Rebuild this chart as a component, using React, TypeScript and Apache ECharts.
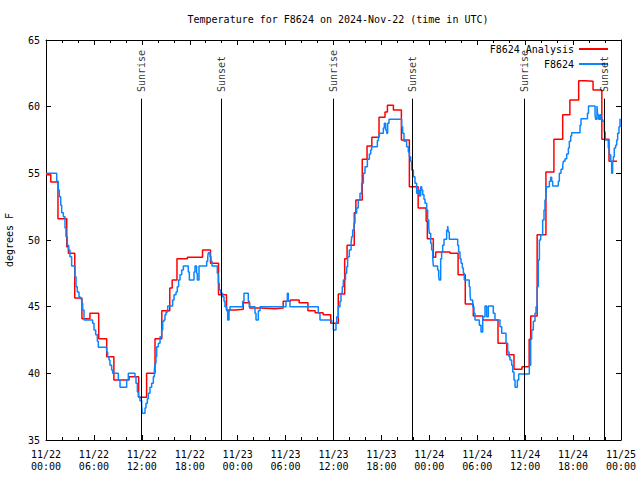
import React, { useEffect, useRef } from "react";
import * as echarts from "echarts";

const FONT = "DejaVu Sans Mono";

// x in hours since 2024-11-22 00:00 UTC
const xTickLabels = [
  "11/22\n00:00", "11/22\n06:00", "11/22\n12:00", "11/22\n18:00",
  "11/23\n00:00", "11/23\n06:00", "11/23\n12:00", "11/23\n18:00",
  "11/24\n00:00", "11/24\n06:00", "11/24\n12:00", "11/24\n18:00",
  "11/25\n00:00",
];

const eventNames = ["Sunrise", "Sunset", "Sunrise", "Sunset", "Sunrise", "Sunset"];
const eventHours = [11.94, 21.95, 35.98, 45.87, 59.9, 69.91];

const analysisHours = [
  0, 0.6, 1.5, 2.6, 2.8, 3.6, 4.5, 5.5, 6.6, 7.6, 8.5, 10.4, 11.6, 12.6, 13.65, 14.5,
  15.5, 15.8, 16.4, 17.7, 19.6, 20.6, 21.6, 22.6, 23.75, 24.7, 25.5, 26.8, 28.7, 29.7,
  30.6, 31.7, 32.8, 33.7, 34.7, 35.65, 36.6, 37.4, 37.7, 38.6, 38.8, 39.6, 40.2, 40.8,
  41.7, 42.45, 42.75, 43.5, 44.5, 45.5, 46.6, 47.6, 47.75, 48.5, 48.8, 50.6, 51.6, 52.5,
  53.5, 54.7, 56.6, 57.7, 58.6, 59.6, 60.5, 60.7, 61.5, 62.6, 63.6, 64.7, 65.6, 66.7,
  67.6, 68.5, 69.6, 70.5, 71.5,
];
const analysisTemps = [
  54.9, 54.35, 51.6, 49.5, 49.0, 45.65, 44.1, 44.5, 42.6, 41.25, 39.5, 39.75, 38.2, 40.0, 42.6, 44.7,
  46.4, 47.0, 48.6, 48.7, 49.25, 48.25, 45.9, 44.75, 44.8, 45.3, 44.9, 44.85, 44.9, 45.4,
  45.5, 45.3, 44.7, 44.55, 44.4, 43.75, 45.95, 48.6, 49.6, 52.05, 53.0, 56.05, 57.05, 57.7,
  59.2, 59.6, 60.1, 59.75, 57.5, 54.0, 52.4, 51.4, 50.1, 48.7, 49.1, 49.0, 47.4, 45.2,
  44.3, 44.0, 42.25, 41.4, 40.3, 40.5, 42.55, 44.3, 50.4, 55.1, 57.55, 59.4, 60.5, 61.95,
  61.9, 61.25, 57.55, 55.9, 55.9,
];

const obsHours = [
  0, 1.34, 1.54, 1.67, 1.84, 1.96, 2.17, 2.38, 2.5, 2.67, 2.84, 3.0, 3.21, 3.63, 3.76, 3.92,
  4.13, 4.26, 4.47, 4.59, 4.76, 5.84, 6.01, 6.22, 6.43, 6.55, 7.6, 7.72, 7.89, 8.01, 8.22,
  8.35, 9.06, 9.27, 10.1, 10.31, 11.14, 11.27, 11.44, 11.56, 11.77, 11.98, 12.06, 12.4,
  12.52, 12.69, 12.81, 13.02, 13.23, 13.44, 13.57, 13.65, 13.77, 13.86, 14.07, 14.28,
  14.48, 14.61, 14.78, 14.9, 15.03, 15.24, 15.86, 16.03, 16.28, 16.44, 16.6, 16.78, 16.99,
  17.2, 17.82, 17.95, 18.53, 18.66, 18.86, 18.95, 19.16, 20.12, 20.25, 20.33, 20.54, 20.66,
  20.79, 21.45, 21.58, 21.7, 21.87, 22.12, 22.29, 22.41, 22.62, 22.75, 22.92, 23.04, 24.63,
  24.79, 25.33, 25.46, 26.17, 26.3, 26.59, 26.8, 30.05, 30.22, 30.34, 30.55, 34.1, 34.31,
  35.77, 35.98, 36.31, 36.4, 36.6, 36.81, 36.94, 37.1, 37.23, 37.5, 37.65, 37.77, 37.98,
  38.2, 38.28, 38.4, 38.57, 38.69, 38.9, 39.1, 39.32, 39.53, 39.74, 39.94, 40.24, 40.49,
  40.66, 40.78, 41.49, 41.62, 41.74, 42.24, 42.37, 42.53, 42.66, 42.78, 42.95, 44.54,
  44.66, 44.83, 45.16, 45.37, 45.5, 45.66, 45.79, 46.0, 46.2, 46.41, 46.62, 46.75, 46.92,
  47.04, 47.17, 47.33, 47.46, 47.67, 47.79, 47.92, 48.0, 48.17, 48.29, 48.42, 48.5, 49.04,
  49.17, 49.25, 49.42, 49.54, 49.67, 49.84, 50.17, 50.3, 50.38, 50.5, 51.55, 51.67, 51.84,
  51.97, 52.13, 52.26, 52.38, 53.0, 53.1, 53.16, 53.43, 53.59, 53.72, 54.26, 54.47, 54.68,
  54.97, 55.18, 55.39, 56.01, 56.22, 56.85, 57.06, 57.6, 57.81, 57.98, 58.1, 58.31, 58.44,
  58.6, 58.73, 59.02, 59.19, 60.52, 60.69, 60.82, 61.02, 61.23, 61.36, 61.5, 61.65, 61.78,
  61.94, 62.19, 62.36, 62.48, 62.61, 62.69, 63.03, 63.19, 63.32, 63.44, 64.15, 64.28, 64.49,
  64.7, 64.78, 64.99, 65.2, 65.41, 65.53, 65.7, 65.82, 66.87, 66.99, 67.8, 67.93, 68.75,
  68.83, 68.99, 69.07, 69.2, 69.37, 69.49, 69.7, 69.91, 70.03, 70.41, 70.54, 70.71, 70.83,
  70.95, 71.04, 71.16, 71.33, 71.46, 71.58, 71.75, 71.88, 71.95,
];
const obsTemps = [
  55.0, 54.4, 53.75, 53.25, 52.6, 52.05, 51.75, 50.9, 50.25, 49.6, 49.25, 48.75, 48.05, 47.25, 46.5, 46.1,
  45.75, 45.6, 45.25, 44.75, 44.0, 43.75, 43.25, 42.9, 42.4, 41.95, 41.6, 41.25, 41.0, 40.6, 40.25,
  40.0, 39.5, 38.95, 39.5, 40.0, 39.75, 39.25, 38.6, 38.25, 37.95, 37.55, 37.0, 37.4,
  37.75, 38.1, 38.5, 38.95, 39.25, 39.75, 40.25, 40.75, 41.25, 42.0, 42.25, 42.75,
  43.25, 43.9, 44.0, 44.4, 44.6, 45.05, 45.5, 45.9, 46.1, 46.5, 47.0, 47.4, 47.75,
  48.05, 47.6, 47.0, 47.6, 48.05, 47.5, 47.0, 48.05, 48.4, 48.75, 49.05, 48.75, 48.4,
  48.05, 47.5, 46.75, 46.25, 46.0, 45.75, 45.4, 45.0, 44.7, 44.0, 44.7, 45.0, 45.4,
  46.0, 45.4, 45.0, 44.5, 44.0, 44.7, 45.0, 45.4, 46.0, 45.4, 45.0, 44.5, 44.0,
  43.75, 43.25, 43.75, 44.25, 45.0, 45.4, 46.0, 46.5, 47.0, 47.5, 48.0, 48.75, 49.25,
  49.75, 50.25, 50.75, 51.25, 52.0, 52.4, 53.0, 53.5, 54.25, 55.0, 55.5, 56.05, 56.45,
  56.75, 57.0, 57.45, 57.75, 58.0, 58.4, 58.75, 58.25, 58.0, 58.75, 59.05, 58.5,
  58.0, 57.4, 57.0, 56.6, 56.25, 55.9, 55.25, 54.75, 54.25, 53.5, 53.75, 53.3, 54.0,
  53.75, 53.4, 53.05, 52.75, 52.25, 51.5, 51.0, 50.5, 49.75, 49.25, 48.7, 48.05, 47.75,
  47.25, 47.0, 48.6, 49.1, 49.6, 50.05, 50.75, 51.05, 50.6, 50.05, 49.6, 49.1, 48.6,
  48.25, 47.9, 47.5, 47.0, 46.5, 46.0, 45.5, 45.0, 44.5, 44.0, 43.6, 43.1, 44.25,
  45.05, 44.25, 45.05, 44.5, 44.0, 43.5, 43.0, 42.25, 41.6, 41.25, 41.0, 40.6, 40.1,
  39.5, 38.95, 39.5, 39.95, 40.6, 42.55, 43.25, 43.9, 44.5, 45.0, 46.5, 48.5, 50.0,
  50.4, 51.5, 52.25, 53.0, 53.6, 54.0, 54.4, 54.7, 54.4, 54.05, 54.4, 55.0, 55.3,
  55.6, 55.9, 56.1, 56.45, 56.9, 57.4, 57.8, 58.05, 58.6, 59.1, 59.5, 60.05, 59.4,
  59.05, 60.05, 59.4, 59.05, 59.4, 59.05, 58.9, 58.1, 57.5, 56.9, 56.4, 55.9, 55.0,
  55.9, 56.25, 56.9, 57.1, 57.5, 58.0, 58.5, 59.1, 59.1,
];

const Y_MIN = 35;
const Y_MAX = 65;
const SUN_LINE_TOP = 60.6;
const SUN_LABEL_BASE = 61.1;

export default function App() {
  const ref = useRef<HTMLDivElement>(null);
  useEffect(() => {
    if (!ref.current) return;
    const chart = echarts.init(ref.current, null, { renderer: "svg" });
    const txt = { fontFamily: FONT, fontSize: 10, color: "#000" };
    const xBase = {
      type: "value",
      min: 0,
      max: 72,
      interval: 6,
      splitLine: { show: false },
      axisLine: { show: true, onZero: false, lineStyle: { color: "#000", width: 1 } },
      axisTick: { show: true, inside: true, length: 5, lineStyle: { color: "#000" } },
      minorTick: { show: true, splitNumber: 3, length: 3, lineStyle: { color: "#000" } },
    };
    const yBase = {
      type: "value",
      min: Y_MIN,
      max: Y_MAX,
      interval: 5,
      splitLine: { show: false },
      axisLine: { show: true, onZero: false, lineStyle: { color: "#000", width: 1 } },
      axisTick: { show: true, inside: true, length: 5, lineStyle: { color: "#000" } },
    };
    chart.setOption({
      animation: false,
      backgroundColor: "#fff",
      title: {
        text: "Temperature for F8624 on 2024-Nov-22 (time in UTC)",
        left: 333,
        textAlign: "center",
        top: 9,
        textStyle: { ...txt, fontWeight: "normal" },
      },
      legend: [
        {
          data: ["F8624 Analysis"],
          right: 27,
          top: 39,
          align: "right",
          icon: "rect",
          itemWidth: 29,
          itemHeight: 2,
          textStyle: txt,
          selectedMode: false,
        },
        {
          data: ["F8624"],
          right: 27,
          top: 54,
          align: "right",
          icon: "rect",
          itemWidth: 29,
          itemHeight: 2,
          textStyle: txt,
          selectedMode: false,
        },
      ],
      grid: {
        left: 46,
        right: 19,
        top: 40,
        bottom: 40,
        containLabel: false,
        outerBoundsMode: "none",
      },
      xAxis: [
        {
          ...xBase,
          position: "bottom",
          axisLabel: {
            ...txt,
            margin: 8,
            lineHeight: 12,
            formatter: (v: number) => xTickLabels[Math.round(v / 6)] ?? "",
          },
        },
        { ...xBase, position: "top", axisLabel: { show: false } },
      ],
      yAxis: [
        {
          ...yBase,
          position: "left",
          name: "degrees F",
          nameLocation: "middle",
          nameGap: 32,
          nameTextStyle: txt,
          axisLabel: { ...txt, margin: 6 },
        },
        { ...yBase, position: "right", axisLabel: { show: false } },
      ],
      series: [
        {
          name: "F8624 Analysis",
          type: "line",
          step: "end",
          showSymbol: false,
          color: "#ff0000",
          lineStyle: { color: "#ff0000", width: 1.5 },
          data: analysisHours.map((h, i) => [h, analysisTemps[i]]),
          z: 3,
        },
        {
          name: "F8624",
          type: "line",
          step: "end",
          showSymbol: false,
          color: "#0a84ff",
          lineStyle: { color: "#0a84ff", width: 1.5 },
          data: obsHours.map((h, i) => [h, obsTemps[i]]),
          z: 4,
        },
        {
          name: "events",
          type: "scatter",
          symbolSize: 1,
          itemStyle: { color: "rgba(0,0,0,0)" },
          silent: true,
          z: 5,
          data: eventHours.map((h) => [h, SUN_LABEL_BASE]),
          label: {
            show: true,
            position: "inside",
            rotate: 90,
            align: "left",
            verticalAlign: "middle",
            ...txt,
            formatter: (p: any) => eventNames[p.dataIndex],
          },
          markLine: {
            silent: true,
            symbol: ["none", "none"],
            label: { show: false },
            lineStyle: { color: "#000", width: 1, type: "solid" },
            data: eventHours.map((h) => [
              { coord: [h, Y_MIN] },
              { coord: [h, SUN_LINE_TOP] },
            ]),
          },
        },
      ],
    });
    return () => chart.dispose();
  }, []);
  return (
    <div
      ref={ref}
      style={{ position: "absolute", left: 0, top: 0, width: 640, height: 480 }}
    />
  );
}
